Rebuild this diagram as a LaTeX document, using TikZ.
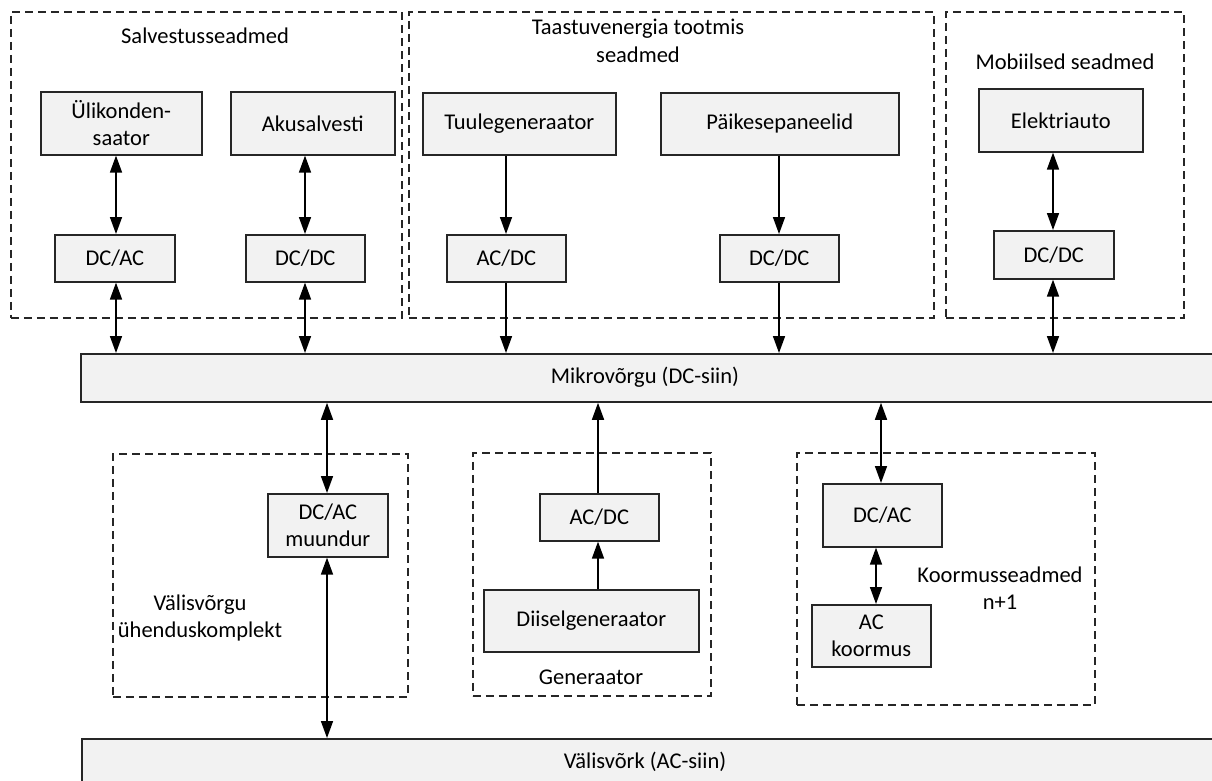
\documentclass[tikz,border=0pt]{standalone}
\usepackage{fontspec}
\setmainfont{Carlito}
\usetikzlibrary{arrows.meta}
\definecolor{boxfill}{HTML}{F2F2F2}
\definecolor{boxline}{HTML}{262626}
\begin{document}
\begin{tikzpicture}[x=1pt,y=-1pt,
  every node/.style={font=\fontsize{22.5}{27.5}\selectfont, inner sep=0pt, align=center},
  unit/.style={draw=boxline, fill=boxfill, line width=1.6pt, anchor=north west},
  grp/.style={draw=boxline, line width=1.5pt, dash pattern=on 8pt off 5pt, anchor=north west},
  bus/.style={draw=boxline, fill=boxfill, line width=1.8pt, anchor=north west},
  tag/.style={},
  flow/.style={line width=1.6pt, -{Triangle[length=17pt,width=12pt]}},
  both/.style={line width=1.6pt, {Triangle[length=17pt,width=12pt]}-{Triangle[length=17pt,width=12pt]}}
]
\clip (0,0) rectangle (1212,780);
\fill[white] (0,0) rectangle (1212,780);

% group frames
\node[grp, minimum width=391pt, minimum height=306pt] (gstore) at (10,11) {};
\node[grp, minimum width=525pt, minimum height=306pt] (grenew) at (408,11) {};
\node[grp, minimum width=238pt, minimum height=306pt] (gmobile) at (945,11) {};
\node[grp, minimum width=295pt, minimum height=243pt] (ggrid) at (112,453) {};
\node[grp, minimum width=238pt, minimum height=243pt] (ggen) at (472,452) {};
\node[grp, minimum width=298pt, minimum height=252pt] (gload) at (796,452) {};

% group titles
\node[tag] (tstore) at (205,36) {Salvestusseadmed};
\node[tag] (trenew) at (638,41) {Taastuvenergia tootmis\\seadmed};
\node[tag] (tmobile) at (1065,62) {Mobiilsed seadmed};
\node[tag] (tgrid) at (200,618) {Välisvõrgu\\ühenduskomplekt};
\node[tag] (tgen) at (591,677) {Generaator};
\node[tag] (tload) at (1000,588) {Koormusseadmed\\n+1};

% buses
\node[bus, minimum width=1160pt, minimum height=48pt] (mikro) at (80,353) {};
\node[tag] (mikrotxt) at (645,377) {Mikrovõrgu (DC-siin)};
\node[bus, minimum width=1160pt, minimum height=70pt] (valis) at (81,738) {};
\node[tag] (valistxt) at (645,762) {Välisvõrk (AC-siin)};

% storage
\node[unit, minimum width=161pt, minimum height=63pt] (ulik) at (40,91) {Ülikonden-\\saator};
\node[unit, minimum width=164pt, minimum height=63pt] (aku) at (230,91) {Akusalvesti};
\node[unit, minimum width=120pt, minimum height=47pt] (dcac1) at (54,234) {DC/AC};
\node[unit, minimum width=119pt, minimum height=47pt] (dcdc1) at (245,234) {DC/DC};

% renewable generation
\node[unit, minimum width=193pt, minimum height=62pt] (tuule) at (422,92) {Tuulegeneraator};
\node[unit, minimum width=238pt, minimum height=62pt] (paike) at (660,92) {Päikesepaneelid};
\node[unit, minimum width=119pt, minimum height=47pt] (acdc1) at (446,234) {AC/DC};
\node[unit, minimum width=119pt, minimum height=47pt] (dcdc2) at (719,234) {DC/DC};

% mobile
\node[unit, minimum width=164pt, minimum height=63pt] (elek) at (978,88) {Elektriauto};
\node[unit, minimum width=120pt, minimum height=48pt] (dcdc3) at (993,230) {DC/DC};

% lower units
\node[unit, minimum width=120pt, minimum height=63pt] (muund) at (267,493) {DC/AC\\muundur};
\node[unit, minimum width=119pt, minimum height=47pt] (acdc2) at (539,493) {AC/DC};
\node[unit, minimum width=215pt, minimum height=62pt] (diisel) at (483,589) {Diiselgeneraator};
\node[unit, minimum width=119pt, minimum height=63pt] (dcac3) at (822,483) {DC/AC};
\node[unit, minimum width=119pt, minimum height=62pt] (acload) at (811,604) {AC\\koormus};

% connector columns
\coordinate (xa) at (116,0);
\coordinate (xb) at (305,0);
\coordinate (xc) at (506,0);
\coordinate (xd) at (779,0);
\coordinate (xe) at (1053,0);
\coordinate (xf) at (327,0);
\coordinate (xg) at (598,0);
\coordinate (xh) at (881,0);
\coordinate (xi) at (876,0);

% connectors
\draw[both] (ulik.south -| xa) -- (dcac1.north -| xa);
\draw[both] (aku.south -| xb) -- (dcdc1.north -| xb);
\draw[both] (mikro.north -| xa) -- (dcac1.south -| xa);
\draw[both] (mikro.north -| xb) -- (dcdc1.south -| xb);
\draw[flow] (tuule.south -| xc) -- (acdc1.north -| xc);
\draw[flow] (acdc1.south -| xc) -- (mikro.north -| xc);
\draw[flow] (paike.south -| xd) -- (dcdc2.north -| xd);
\draw[flow] (dcdc2.south -| xd) -- (mikro.north -| xd);
\draw[both] (elek.south -| xe) -- (dcdc3.north -| xe);
\draw[both] (mikro.north -| xe) -- (dcdc3.south -| xe);
\draw[both] (mikro.south -| xf) -- (muund.north -| xf);
\draw[both] (valis.north -| xf) -- (muund.south -| xf);
\draw[flow] (diisel.north -| xg) -- (acdc2.south -| xg);
\draw[flow] (acdc2.north -| xg) -- (mikro.south -| xg);
\draw[both] (mikro.south -| xh) -- (dcac3.north -| xh);
\draw[both] (dcac3.south -| xi) -- (acload.north -| xi);
\end{tikzpicture}
\end{document}
